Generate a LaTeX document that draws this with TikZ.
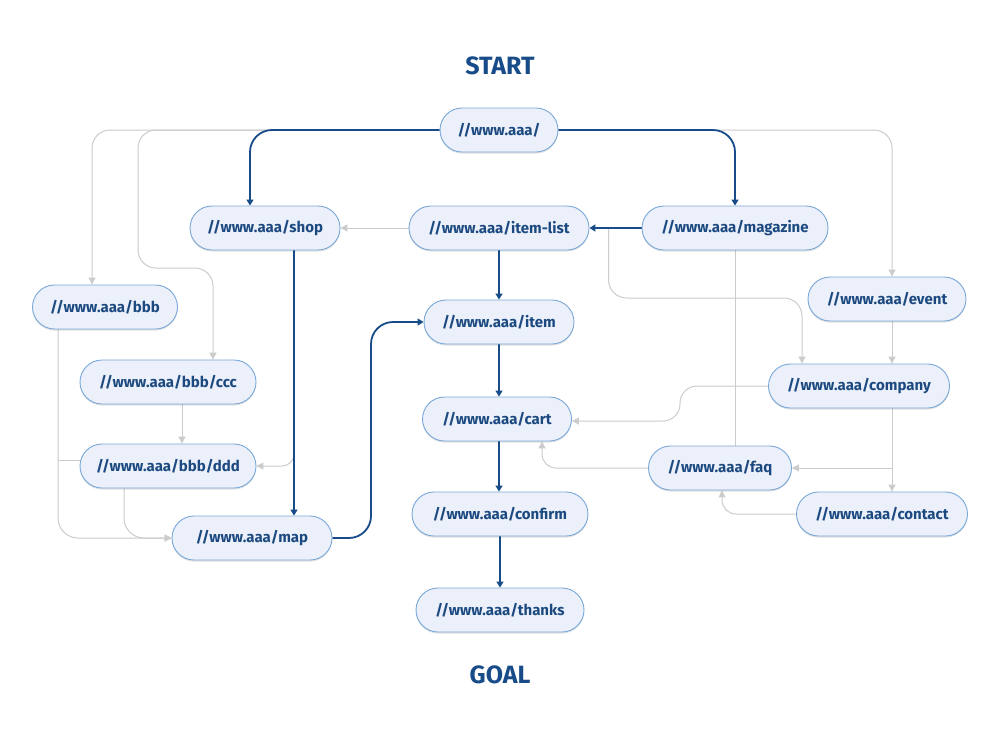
\documentclass[tikz,border=0pt]{standalone}
\usepackage{fontspec}
\setmainfont{Fira Sans}
\usetikzlibrary{arrows.meta,backgrounds,shadows}
\definecolor{navy}{HTML}{184C89}
\definecolor{txt}{HTML}{1C4A80}
\definecolor{nfill}{HTML}{EBF0FA}
\definecolor{nedge}{HTML}{7AA8D8}
\definecolor{lgray}{HTML}{CCCCCC}
\tikzset{
  pg/.style={draw=nedge, fill=nfill, line width=0.9pt, rounded corners=22pt,
    minimum height=44pt, inner sep=0pt, text=txt,
    font=\fontsize{15}{17}\selectfont\bfseries,
    drop shadow={shadow xshift=0pt, shadow yshift=-1.5pt, opacity=0.12, fill=black}},
  lbl/.style={text=navy, font=\fontsize{25}{27}\selectfont\bfseries},
  mainln/.style={draw=navy, line width=1.8pt, -{Triangle[width=7pt,length=6pt]}},
  mainnoarr/.style={draw=navy, line width=1.8pt},
  subln/.style={draw=lgray, line width=1pt, -{Triangle[width=7pt,length=7pt]}},
  subnoarr/.style={draw=lgray, line width=1pt},
}
\begin{document}
\begin{tikzpicture}[x=1pt,y=-1pt]
\useasboundingbox (0,0) rectangle (1000,740);
% labels
\node[lbl] (start) at (500,66) {START};
\node[lbl] (goal) at (500,675) {GOAL};
% nodes
\node[pg, minimum width=118pt] (aaa) at (499,130) {//www.aaa/};
\node[pg, minimum width=150pt] (shop) at (265,228) {//www.aaa/shop};
\node[pg, minimum width=180pt] (itemlist) at (499,228) {//www.aaa/item-list};
\node[pg, minimum width=186pt] (magazine) at (735,228) {//www.aaa/magazine};
\node[pg, minimum width=145pt] (bbb) at (105,307) {//www.aaa/bbb};
\node[pg, minimum width=158pt] (event) at (887,299) {//www.aaa/event};
\node[pg, minimum width=150pt] (item) at (499,322) {//www.aaa/item};
\node[pg, minimum width=176pt] (ccc) at (168,382) {//www.aaa/bbb/ccc};
\node[pg, minimum width=181pt] (company) at (859,386) {//www.aaa/company};
\node[pg, minimum width=149pt] (cart) at (497,419) {//www.aaa/cart};
\node[pg, minimum width=176pt] (ddd) at (168,466) {//www.aaa/bbb/ddd};
\node[pg, minimum width=143pt] (faq) at (720,468) {//www.aaa/faq};
\node[pg, minimum width=176pt] (confirm) at (500,514) {//www.aaa/confirm};
\node[pg, minimum width=171pt] (contact) at (882,514) {//www.aaa/contact};
\node[pg, minimum width=160pt] (map) at (252,538) {//www.aaa/map};
\node[pg, minimum width=168pt] (thanks) at (500,610) {//www.aaa/thanks};
% helper coordinates
\coordinate (ga) at (138,268);
\coordinate (ge) at (700,298);
\coordinate (gh) at (680,421);
\coordinate (shopline) at (294,448);
\coordinate (bl) at ([xshift=-47pt]bbb.south);
\coordinate (mm) at (371,322);
\begin{scope}[on background layer]
\fill[white] (0,0) rectangle (1000,740);
% gray connectors
\draw[subln, rounded corners=18pt] (aaa.west) -| ([xshift=-13pt]bbb.north);
\draw[subln, rounded corners=18pt] (aaa.west) -| (ga) -| ([xshift=45pt]ccc.north);
\draw[subln, rounded corners=18pt] (aaa.east) -| ([xshift=5pt]event.north);
\draw[subln] (itemlist.west) -- (shop.east);
\draw[subln, rounded corners=18pt] ([xshift=-33pt]magazine.west) |- (ge) -| ([xshift=-57pt]company.north);
\draw[subnoarr] (magazine.south) -- (magazine.south |- faq.north);
\draw[subln] ([xshift=5pt]event.south) -- ([xshift=33pt]company.north);
\draw[subln, rounded corners=17pt] (company.west) -| (gh) -- (gh -| cart.east);
\draw[subln] ([xshift=33pt]company.south) -- ([xshift=10pt]contact.north);
\draw[subln] ([xshift=33pt]company.south |- faq.east) -- (faq.east);
\draw[subln, rounded corners=14pt] (faq.west) -| ([xshift=45pt]cart.south);
\draw[subln, rounded corners=14pt] (contact.west) -| ([xshift=2pt]faq.south);
\draw[subln] ([xshift=14pt]ccc.south) -- ([xshift=14pt]ddd.north);
\draw[subln, rounded corners=12pt] (shopline) |- (ddd.east);
\draw[subln, rounded corners=20pt] (bl) |- (map.west);
\draw[subnoarr] ([yshift=6pt]ddd.west) -- ([yshift=6pt]ddd.west -| bl);
\draw[subln, rounded corners=20pt] ([xshift=-44pt]ddd.south) |- (map.west);
% main connectors
\draw[mainln, rounded corners=22pt] (aaa.west) -| ([xshift=-15pt]shop.north);
\draw[mainln, rounded corners=22pt] (aaa.east) -| (magazine.north);
\draw[mainln] (magazine.west) -- (itemlist.east);
\draw[mainln] (itemlist.south) -- (itemlist.south |- item.north);
\draw[mainln] ([xshift=29pt]shop.south) -- ([xshift=29pt]shop.south |- map.north);
\draw[mainln, rounded corners=22pt] (map.east) -| (mm) -- (item.west);
\draw[mainln] (item.south) -- (item.south |- cart.north);
\draw[mainln] (item.south |- cart.south) -- (item.south |- confirm.north);
\draw[mainln] (confirm.south) -- (thanks.north);
\end{scope}
\end{tikzpicture}
\end{document}
